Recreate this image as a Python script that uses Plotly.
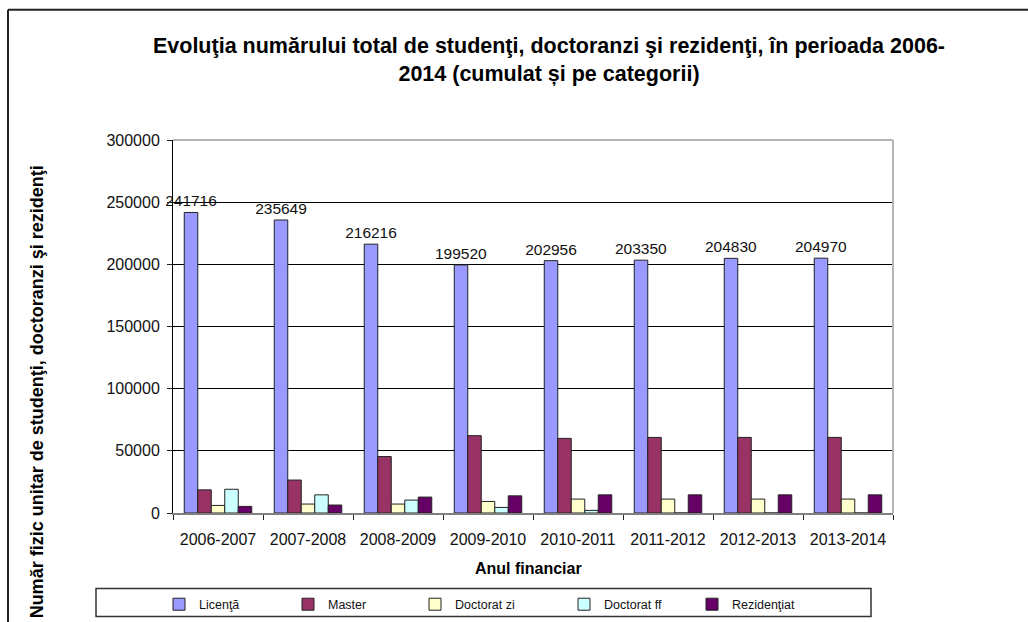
import plotly.graph_objects as go

years = ["2006-2007", "2007-2008", "2008-2009", "2009-2010",
         "2010-2011", "2011-2012", "2012-2013", "2013-2014"]
licenta = [241716, 235649, 216216, 199520, 202956, 203350, 204830, 204970]
master = [18600, 26500, 45400, 62200, 60000, 60800, 60800, 60800]
doctorat_zi = [6100, 7200, 7200, 9300, 11200, 11200, 11200, 11200]
doctorat_ff = [19100, 14600, 10400, 4500, 2100, 0, 0, 0]
rezidentiat = [5300, 6400, 12800, 13800, 14600, 14600, 14600, 14600]

series = [
    ("Licenţă", licenta, "#9999FF"),
    ("Master", master, "#993366"),
    ("Doctorat zi", doctorat_zi, "#FFFFCC"),
    ("Doctorat ff", doctorat_ff, "#CCFFFF"),
    ("Rezidenţiat", rezidentiat, "#660066"),
]

W, H = 1028, 632
L, R, T, B = 173, 893, 140, 515
pw, ph = R - L, B - T

def px(x):
    return (x - L) / pw

def py(y):
    return (B - y) / ph

FONT = "Liberation Sans, Arial, sans-serif"

legend_ids = ["legend", "legend2", "legend3", "legend4", "legend5"]
legend_x = [159, 288, 415, 564, 692]

fig = go.Figure()
for i, (name, vals, color) in enumerate(series):
    kw = {}
    if i == 0:
        kw = dict(text=[str(v) for v in vals], textposition="outside",
                  textfont=dict(family=FONT, size=15.5, color="#111"),
                  constraintext="none", cliponaxis=False)
    fig.add_trace(go.Bar(
        x=years, y=vals, name=name, legend=legend_ids[i],
        marker=dict(color=color, line=dict(color="#222", width=1)),
        **kw))

legend_common = dict(orientation="h", yanchor="top", xanchor="left",
                     font=dict(family=FONT, size=12.5, color="#111"),
                     bgcolor="rgba(0,0,0,0)", borderwidth=0)
legends = {}
for lid, lx in zip(legend_ids, legend_x):
    legends[lid] = dict(x=px(lx), y=py(592), **legend_common)

fig.update_layout(
    template="none",
    width=W, height=H, autosize=False,
    margin=dict(l=L, r=W - R, t=T, b=H - B),
    paper_bgcolor="white", plot_bgcolor="white",
    barmode="group", bargap=0.25, bargroupgap=0,
    font=dict(family=FONT, color="#111"),
    title=dict(
        text="Evoluţia numărului total de studenţi, doctoranzi şi rezidenţi, în perioada 2006-<br>2014 (cumulat și pe categorii)",
        font=dict(family=FONT, size=21.5, color="#000", weight="bold"),
        x=549 / W, xanchor="center", xref="container",
        y=1 - 53 / H, yanchor="middle", yref="container"),
    showlegend=True,
    xaxis=dict(showgrid=False, showline=True, linecolor="#808080", linewidth=1.5,
               ticks="outside", tickson="boundaries", ticklen=5, tickcolor="#222",
               tickfont=dict(family=FONT, size=16, color="#111"),
               ticklabelstandoff=11, fixedrange=True, automargin=False),
    yaxis=dict(range=[0, 300000], tickvals=[0, 50000, 100000, 150000, 200000, 250000, 300000],
               ticktext=["0", "50000", "100000", "150000", "200000", "250000", "300000"],
               showgrid=True, gridcolor="#000", gridwidth=1,
               showline=True, linecolor="#000", linewidth=1, zeroline=False,
               ticks="outside", ticklen=5, tickcolor="#222",
               tickfont=dict(family=FONT, size=16, color="#111"),
               ticklabelstandoff=4, fixedrange=True, automargin=False),
    annotations=[
        dict(text="<b>Anul financiar</b>", x=px(528), y=py(571), xref="paper", yref="paper",
             showarrow=False, font=dict(family=FONT, size=16, color="#000"),
             xanchor="center", yanchor="middle"),
        dict(text="<b>Număr fizic unitar de studenţi, doctoranzi şi rezidenţi</b>",
             x=px(37), y=py(164), xref="paper", yref="paper", textangle=-90,
             showarrow=False, font=dict(family=FONT, size=18, color="#000"),
             xanchor="center", yanchor="top"),
    ],
    shapes=[
        dict(type="line", xref="paper", yref="paper", x0=0, x1=1, y0=1, y1=1,
             line=dict(color="#B4B4B4", width=2), layer="above"),
        dict(type="line", xref="paper", yref="paper", x0=1, x1=1, y0=0, y1=1,
             line=dict(color="#B4B4B4", width=2), layer="above"),
        dict(type="rect", xref="paper", yref="paper", x0=px(96), x1=px(871),
             y0=py(619), y1=py(591), line=dict(color="#333", width=1.5)),
        dict(type="line", xref="paper", yref="paper", x0=px(8), x1=px(1030),
             y0=py(9), y1=py(9), line=dict(color="#222", width=2)),
        dict(type="line", xref="paper", yref="paper", x0=px(8), x1=px(8),
             y0=py(9), y1=py(630), line=dict(color="#222", width=2)),
    ],
    **legends,
)

fig.write_html("out.html",
               config={"responsive": False, "displayModeBar": False},
               post_script="document.body.style.margin='0';document.body.style.overflow='hidden';")
